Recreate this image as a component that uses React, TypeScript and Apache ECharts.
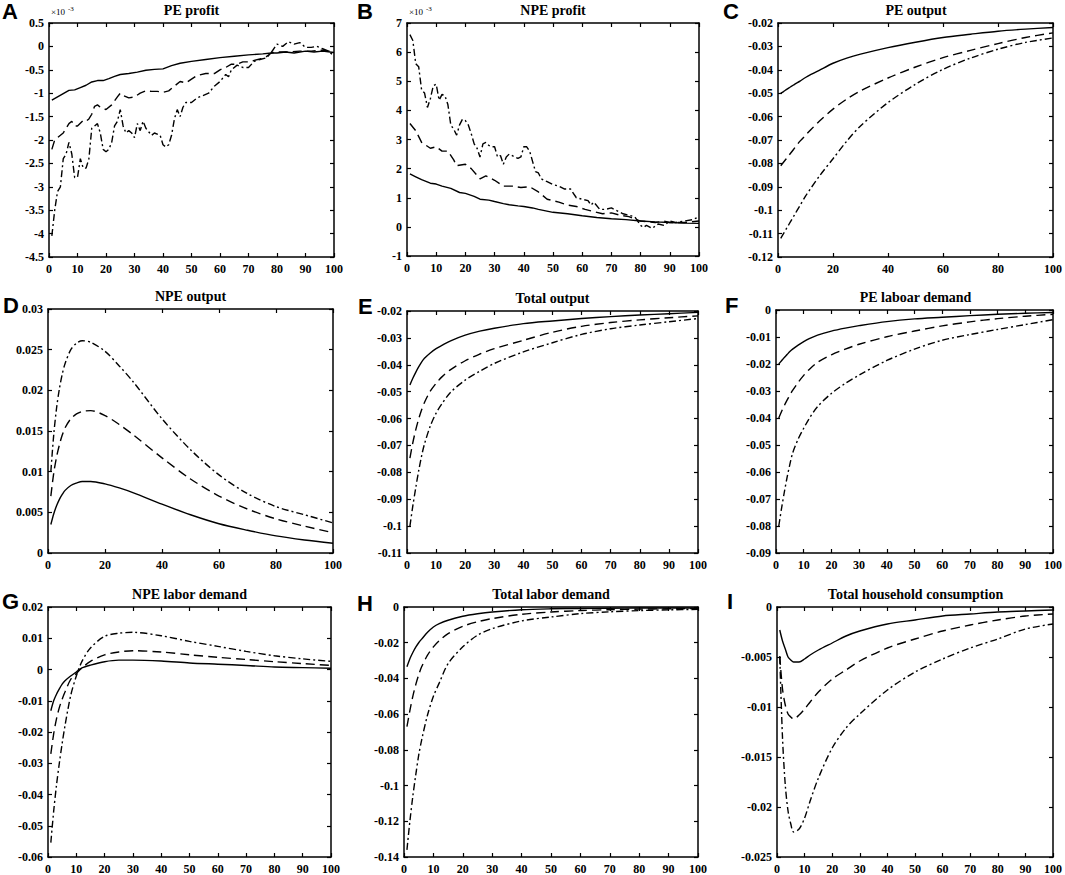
import React, { useEffect, useRef } from "react";
import * as echarts from "echarts";

// ---------- DATA ----------
// common horizon points for smooth impulse responses
const periods = [1, 2, 3, 4, 5, 6, 8, 10, 12, 15, 20, 25, 30, 40, 50, 60, 70, 80, 90, 100];

// A: PE profit (×10^-3)
const aSolidX = [1, 3, 5, 7, 9, 11, 13, 15, 17, 19, 21, 23, 25, 28, 31, 34, 37, 40, 43, 46, 50, 55, 60, 65, 70, 75, 78, 80, 83, 86, 90, 93, 96, 100];
const aSolid = [-1.15, -1.08, -1.01, -0.94, -0.93, -0.88, -0.83, -0.76, -0.73, -0.73, -0.69, -0.64, -0.6, -0.58, -0.55, -0.51, -0.49, -0.48, -0.41, -0.36, -0.32, -0.28, -0.24, -0.21, -0.18, -0.16, -0.14, -0.14, -0.12, -0.14, -0.1, -0.12, -0.1, -0.13];
const aDashedX = [1, 2, 3, 5, 7, 8, 9, 10, 12, 13, 14, 15, 16, 17, 18, 20, 22, 24, 25, 26, 28, 30, 32, 34, 36, 38, 40, 42, 44, 46, 48, 50, 52, 55, 58, 60, 62, 64, 66, 68, 70, 72, 74, 76, 78, 80, 84, 88, 92, 96, 100];
const aDashed = [-2.2, -2.0, -1.95, -1.85, -1.65, -1.6, -1.7, -1.7, -1.58, -1.6, -1.55, -1.45, -1.28, -1.25, -1.3, -1.35, -1.25, -1.08, -1.0, -1.05, -1.1, -1.08, -1.0, -0.95, -0.96, -0.96, -0.98, -0.95, -0.85, -0.75, -0.78, -0.7, -0.62, -0.58, -0.58, -0.5, -0.45, -0.38, -0.38, -0.33, -0.33, -0.3, -0.27, -0.23, -0.14, -0.12, -0.12, -0.1, -0.1, -0.08, -0.12];
const aDashDotX = [1, 2, 3, 4, 5, 6, 7, 8, 9, 10, 11, 12, 13, 14, 15, 16, 17, 18, 19, 20, 21, 22, 23, 24, 25, 26, 27, 28, 29, 30, 31, 32, 33, 34, 36, 37, 39, 40, 41, 42, 43, 44, 45, 46, 47, 48, 50, 52, 54, 56, 58, 60, 62, 63, 64, 66, 68, 70, 72, 74, 76, 77, 78, 80, 82, 84, 86, 88, 90, 92, 94, 96, 98, 100];
const aDashDot = [-4.05, -3.5, -3.1, -3.0, -2.4, -2.3, -2.05, -2.3, -2.8, -2.8, -2.4, -2.6, -2.6, -2.4, -1.75, -1.7, -1.65, -1.85, -2.2, -2.25, -2.2, -2.05, -1.7, -1.6, -1.35, -1.7, -1.85, -1.8, -1.85, -1.95, -1.65, -1.8, -1.6, -1.75, -1.9, -1.85, -1.9, -2.1, -2.15, -2.1, -1.9, -1.55, -1.35, -1.5, -1.3, -1.2, -1.2, -1.1, -1.05, -1.0, -0.85, -0.75, -0.6, -0.65, -0.5, -0.4, -0.45, -0.45, -0.32, -0.28, -0.25, -0.2, -0.13, 0.05, 0.0, 0.1, 0.05, 0.08, -0.02, -0.02, 0.0, -0.05, -0.1, -0.2];

// B: NPE profit (×10^-3)
const bSolidX = [1, 3, 5, 8, 10, 12, 15, 18, 20, 23, 25, 28, 30, 33, 35, 38, 40, 43, 45, 50, 55, 60, 65, 70, 75, 80, 85, 90, 95, 100];
const bSolid = [1.82, 1.72, 1.62, 1.5, 1.47, 1.4, 1.32, 1.18, 1.15, 1.05, 0.95, 0.92, 0.87, 0.8, 0.76, 0.72, 0.7, 0.65, 0.6, 0.5, 0.45, 0.38, 0.32, 0.28, 0.25, 0.2, 0.17, 0.15, 0.13, 0.12];
const bDashedX = [1, 3, 5, 8, 10, 12, 14, 16, 17, 20, 22, 25, 27, 30, 33, 36, 39, 42, 45, 48, 52, 55, 58, 61, 63, 65, 67, 70, 73, 76, 80, 85, 88, 90, 95, 100];
const bDashed = [3.55, 3.3, 2.9, 2.7, 2.75, 2.6, 2.6, 2.3, 2.1, 2.15, 2.0, 1.65, 1.75, 1.6, 1.4, 1.4, 1.35, 1.38, 1.2, 0.95, 0.85, 0.75, 0.7, 0.6, 0.55, 0.5, 0.45, 0.48, 0.4, 0.35, 0.2, 0.15, 0.2, 0.15, 0.15, 0.2];
const bDashDotX = [1, 2, 3, 4, 5, 6, 7, 8, 9, 10, 11, 12, 13, 14, 15, 16, 17, 18, 19, 20, 21, 22, 23, 24, 25, 26, 27, 28, 29, 30, 31, 32, 33, 34, 35, 37, 38, 39, 40, 41, 42, 43, 44, 45, 46, 48, 50, 52, 54, 56, 58, 60, 62, 63, 64, 66, 68, 70, 72, 74, 76, 78, 80, 81, 82, 84, 86, 88, 90, 92, 95, 98, 100];
const bDashDot = [6.6, 6.4, 5.6, 5.5, 4.7, 4.6, 4.1, 4.4, 4.85, 4.9, 4.35, 4.55, 4.5, 4.2, 3.5, 3.35, 3.15, 3.5, 3.7, 3.65, 3.5, 3.2, 2.85, 2.7, 2.4, 2.85, 2.9, 2.8, 2.75, 2.75, 2.4, 2.45, 2.15, 2.4, 2.5, 2.4, 2.35, 2.4, 2.75, 2.75, 2.6, 2.25, 1.9, 1.85, 1.65, 1.55, 1.45, 1.4, 1.3, 1.3, 1.0, 0.95, 0.9, 0.75, 0.85, 0.6, 0.6, 0.65, 0.55, 0.45, 0.4, 0.35, 0.05, -0.02, 0.05, -0.05, 0.1, 0.05, 0.2, 0.15, 0.2, 0.25, 0.35];

// C: PE output
const cSolid = [-0.05, -0.0493, -0.0485, -0.0477, -0.047, -0.0462, -0.0448, -0.0433, -0.042, -0.0402, -0.0372, -0.035, -0.0333, -0.0305, -0.0282, -0.0262, -0.0248, -0.0235, -0.0226, -0.0219];
const cDashed = [-0.081, -0.0795, -0.078, -0.0765, -0.075, -0.0735, -0.0705, -0.068, -0.0655, -0.062, -0.0568, -0.0525, -0.049, -0.0435, -0.0388, -0.0348, -0.0317, -0.0288, -0.0262, -0.0242];
const cDashDot = [-0.112, -0.11, -0.108, -0.106, -0.104, -0.102, -0.098, -0.094, -0.0905, -0.0855, -0.078, -0.0705, -0.064, -0.054, -0.0462, -0.0398, -0.035, -0.0312, -0.0283, -0.0264];

// D: NPE output
const dSolid = [0.0035, 0.0048, 0.0058, 0.0066, 0.0072, 0.0077, 0.0083, 0.0086, 0.0088, 0.0088, 0.0085, 0.008, 0.0074, 0.006, 0.0047, 0.0036, 0.0028, 0.0021, 0.0016, 0.0012];
const dDashed = [0.007, 0.0098, 0.0118, 0.0133, 0.0145, 0.0154, 0.0165, 0.0171, 0.0174, 0.0175, 0.0169, 0.0158, 0.0145, 0.0117, 0.0091, 0.007, 0.0054, 0.0042, 0.0033, 0.0025];
const dDashDot = [0.01, 0.0145, 0.0178, 0.0202, 0.022, 0.0233, 0.025, 0.0258, 0.0261, 0.0259, 0.0248, 0.023, 0.021, 0.0165, 0.0127, 0.0096, 0.0073, 0.0057, 0.0047, 0.0037];

// E: Total output
const eSolid = [-0.0475, -0.045, -0.0428, -0.0408, -0.039, -0.0376, -0.0356, -0.034, -0.0328, -0.0311, -0.029, -0.0275, -0.0264, -0.0247, -0.0237, -0.0228, -0.0221, -0.0215, -0.021, -0.0205];
const eDashed = [-0.0747, -0.069, -0.0642, -0.0602, -0.0568, -0.054, -0.0498, -0.0469, -0.0445, -0.0418, -0.0385, -0.036, -0.034, -0.0309, -0.0279, -0.0257, -0.0243, -0.0233, -0.0225, -0.0218];
const eDashDot = [-0.1, -0.0925, -0.0858, -0.0795, -0.074, -0.0695, -0.0628, -0.058, -0.0545, -0.0502, -0.0457, -0.0424, -0.0395, -0.0352, -0.0318, -0.0287, -0.0266, -0.0252, -0.024, -0.0228];

// F: PE laboar demand
const fSolid = [-0.02, -0.0188, -0.0176, -0.0165, -0.0154, -0.0145, -0.013, -0.0117, -0.0106, -0.0093, -0.0078, -0.0067, -0.0058, -0.0043, -0.0033, -0.0027, -0.0021, -0.0016, -0.0012, -0.0009];
const fDashed = [-0.04, -0.0376, -0.0354, -0.0334, -0.0315, -0.0298, -0.0268, -0.0242, -0.022, -0.0194, -0.0166, -0.0145, -0.0127, -0.0099, -0.0078, -0.0059, -0.0044, -0.0032, -0.0023, -0.0016];
const fDashDot = [-0.08, -0.0735, -0.0675, -0.062, -0.0572, -0.053, -0.0478, -0.0438, -0.0402, -0.0358, -0.0309, -0.0272, -0.0241, -0.0187, -0.0145, -0.0112, -0.0091, -0.0072, -0.0054, -0.0036];

// G: NPE labor demand
const gSolid = [-0.0132, -0.01, -0.0079, -0.0062, -0.0047, -0.0036, -0.0021, -0.0008, 0.0005, 0.0014, 0.0025, 0.003, 0.003, 0.0027, 0.0021, 0.0017, 0.0013, 0.0008, 0.0006, 0.0004];
const gDashed = [-0.027, -0.0206, -0.0158, -0.0122, -0.0095, -0.0072, -0.0032, -0.0013, 0.0005, 0.0026, 0.0047, 0.0056, 0.006, 0.0056, 0.0047, 0.0039, 0.0032, 0.0025, 0.0019, 0.0013];
const gDashDot = [-0.0554, -0.0454, -0.037, -0.03, -0.0237, -0.018, -0.0084, -0.0021, 0.0026, 0.0069, 0.0106, 0.0116, 0.0119, 0.0108, 0.009, 0.0074, 0.0058, 0.0044, 0.0034, 0.0026];

// H: Total labor demand
const hSolid = [-0.0335, -0.029, -0.0255, -0.0225, -0.02, -0.018, -0.0142, -0.0112, -0.0093, -0.0074, -0.0052, -0.0038, -0.0028, -0.0015, -0.001, -0.0008, -0.0007, -0.0006, -0.0006, -0.0006];
const hDashed = [-0.067, -0.058, -0.05, -0.0435, -0.038, -0.0335, -0.027, -0.0223, -0.0188, -0.0149, -0.0108, -0.0083, -0.0065, -0.0041, -0.0028, -0.002, -0.0015, -0.0012, -0.001, -0.0009];
const hDashDot = [-0.136, -0.12, -0.106, -0.094, -0.083, -0.0745, -0.0605, -0.05, -0.0425, -0.0317, -0.0223, -0.0158, -0.0121, -0.0078, -0.0056, -0.0037, -0.0027, -0.002, -0.0016, -0.0013];

// I: Total household consumption
const iSolid = [-0.0023, -0.0034, -0.0042, -0.005, -0.0053, -0.0055, -0.0055, -0.0052, -0.0048, -0.0043, -0.0036, -0.0029, -0.0024, -0.0017, -0.0013, -0.0009, -0.0007, -0.0005, -0.0004, -0.0003];
const iDashed = [-0.0049, -0.0082, -0.0098, -0.0107, -0.011, -0.0112, -0.0108, -0.0102, -0.0095, -0.0085, -0.0072, -0.0063, -0.0054, -0.0041, -0.0032, -0.0024, -0.0018, -0.0013, -0.0009, -0.0007];
const iDashDot = [-0.005, -0.0131, -0.0178, -0.0204, -0.0217, -0.0225, -0.0222, -0.0211, -0.0194, -0.0171, -0.0141, -0.0121, -0.0107, -0.0083, -0.0065, -0.0052, -0.0041, -0.0032, -0.0022, -0.0017];

const titles = ["PE profit", "NPE profit", "PE output", "NPE output", "Total output", "PE laboar demand", "NPE labor demand", "Total labor demand", "Total household consumption"];
const letters = ["A", "B", "C", "D", "E", "F", "G", "H", "I"];
// y ranges: [min, max, interval]
const yRanges = [
  [-4.5, 0.5, 0.5], [-1, 7, 1], [-0.12, -0.02, 0.01],
  [0, 0.03, 0.005], [-0.11, -0.02, 0.01], [-0.09, 0, 0.01],
  [-0.06, 0.02, 0.01], [-0.14, 0, 0.02], [-0.025, 0, 0.005],
];
const xIntervals = [10, 10, 20, 20, 10, 10, 10, 10, 10];

// ---------- LAYOUT ----------
const grids = [
  { left: 49, top: 23, width: 285, height: 234 },
  { left: 407, top: 23, width: 292, height: 233 },
  { left: 778, top: 23, width: 276, height: 234 },
  { left: 48, top: 309, width: 285, height: 244 },
  { left: 407, top: 311, width: 291, height: 242 },
  { left: 776, top: 310, width: 279, height: 243 },
  { left: 48, top: 607, width: 283, height: 252 },
  { left: 404, top: 607, width: 294, height: 252 },
  { left: 777, top: 607, width: 277, height: 253 },
];
const letterPos = [
  [2, 0], [357, 0], [723, 0], [3, 294], [358, 295], [725, 294], [2, 590], [357, 592], [727, 590],
];

const zip = (xs: number[], ys: number[]) => xs.map((x, i) => [x, ys[i]]);

const panelSeries: number[][][][] = [
  [zip(aSolidX, aSolid), zip(aDashedX, aDashed), zip(aDashDotX, aDashDot)],
  [zip(bSolidX, bSolid), zip(bDashedX, bDashed), zip(bDashDotX, bDashDot)],
  [zip(periods, cSolid), zip(periods, cDashed), zip(periods, cDashDot)],
  [zip(periods, dSolid), zip(periods, dDashed), zip(periods, dDashDot)],
  [zip(periods, eSolid), zip(periods, eDashed), zip(periods, eDashDot)],
  [zip(periods, fSolid), zip(periods, fDashed), zip(periods, fDashDot)],
  [zip(periods, gSolid), zip(periods, gDashed), zip(periods, gDashDot)],
  [zip(periods, hSolid), zip(periods, hDashed), zip(periods, hDashDot)],
  [zip(periods, iSolid), zip(periods, iDashed), zip(periods, iDashDot)],
];

const SERIF = '"Liberation Serif", "Times New Roman", serif';
const SANS = '"Liberation Sans", Arial, sans-serif';
const lineTypes: any[] = ["solid", [9, 5], [7, 3, 2, 3]];

function buildOption() {
  const xAxis: any[] = [];
  const yAxis: any[] = [];
  const series: any[] = [];
  const graphic: any[] = [];
  const axisLine = { show: true, onZero: false, lineStyle: { color: "#000", width: 1.5 } };
  const axisTick = { show: true, inside: true, length: 4, lineStyle: { color: "#000", width: 1.2 } };
  const label = {
    color: "#000", fontFamily: SERIF, fontWeight: "bold", fontSize: 12,
    showMinLabel: true, showMaxLabel: true,
    formatter: (v: number) => String(+v.toFixed(6)),
  };
  grids.forEach((g, i) => {
    const [ymin, ymax, yint] = yRanges[i];
    const common = { gridIndex: i, type: "value", splitLine: { show: false }, axisLine, axisTick };
    xAxis.push({ ...common, position: "bottom", min: 0, max: 100, interval: xIntervals[i], axisLabel: { ...label, margin: 6 } });
    xAxis.push({ ...common, position: "top", min: 0, max: 100, interval: xIntervals[i], axisLabel: { show: false } });
    yAxis.push({ ...common, position: "left", min: ymin, max: ymax, interval: yint, axisLabel: { ...label, margin: 5 } });
    yAxis.push({ ...common, position: "right", min: ymin, max: ymax, interval: yint, axisLabel: { show: false } });
    const smoothPanel = i >= 2;
    panelSeries[i].forEach((data, k) => {
      series.push({
        type: "line", xAxisIndex: 2 * i, yAxisIndex: 2 * i, data,
        showSymbol: false, symbol: "none", silent: true, clip: true,
        smooth: smoothPanel ? 0.3 : false,
        lineStyle: { color: "#000", width: 1.4, type: lineTypes[k] },
      });
    });
    graphic.push({
      type: "text", x: g.left + g.width / 2, y: g.top - 13,
      style: { text: titles[i], fontFamily: SERIF, fontWeight: "bold", fontSize: 14, fill: "#000", align: "center", verticalAlign: "middle" },
    });
    graphic.push({
      type: "text", x: letterPos[i][0], y: letterPos[i][1],
      style: { text: letters[i], fontFamily: SANS, fontWeight: "bold", fontSize: 22, fill: "#000", align: "left", verticalAlign: "top" },
    });
    if (i < 2) {
      graphic.push({
        type: "text", x: g.left + 2, y: g.top - 7,
        style: { text: "×10", fontFamily: SERIF, fontSize: 9, fill: "#000", align: "left", verticalAlign: "bottom" },
      });
      graphic.push({
        type: "text", x: g.left + 19, y: g.top - 11,
        style: { text: "-3", fontFamily: SERIF, fontSize: 7, fill: "#000", align: "left", verticalAlign: "bottom" },
      });
    }
  });
  return {
    animation: false,
    backgroundColor: "#fff",
    grid: grids.map((g) => ({ ...g, containLabel: false })),
    xAxis, yAxis, series, graphic,
  };
}

export default function App() {
  const ref = useRef<HTMLDivElement>(null);
  useEffect(() => {
    if (!ref.current) return;
    const chart = echarts.init(ref.current, undefined, { renderer: "svg" });
    chart.setOption(buildOption() as any);
    return () => chart.dispose();
  }, []);
  return <div ref={ref} style={{ position: "absolute", left: 0, top: 0, width: 1065, height: 875, background: "#fff" }} />;
}
